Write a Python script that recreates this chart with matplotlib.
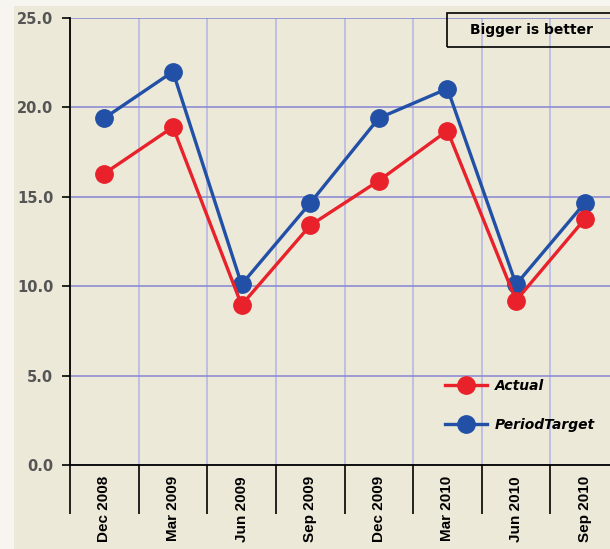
import matplotlib
matplotlib.use("Agg")
import matplotlib.pyplot as plt
from matplotlib.patches import Rectangle

# data
periods = ["Dec 2008", "Mar 2009", "Jun 2009", "Sep 2009",
           "Dec 2009", "Mar 2010", "Jun 2010", "Sep 2010"]
actual = [16.3, 18.9, 8.95, 13.4, 15.9, 18.7, 9.2, 13.75]
period_target = [19.4, 22.0, 10.1, 14.65, 19.4, 21.05, 10.1, 14.65]
y_ticks = [0, 5, 10, 15, 20, 25]

W, H = 610, 549
bg = "#ECE9D8"
red = "#E8212B"
blue = "#2150A6"

fig = plt.figure(figsize=(W / 100, H / 100), dpi=100)
fig.patch.set_facecolor("#F6F5EF")
# inner beige panel (light strip left and top)
fig.patches.append(Rectangle((14 / W, 0), 1, 1 - 6 / H, transform=fig.transFigure,
                             facecolor=bg, edgecolor="none", zorder=-5))

# axes run past the right edge, like in the cropped original
ax = fig.add_axes([70 / W, 1 - 465 / H, 549 / W, 447 / H])
ax.set_facecolor(bg)

x = list(range(len(periods)))
ax.plot(x, actual, color=red, lw=2.4, marker="o", ms=12.5, label="Actual", zorder=4)
ax.plot(x, period_target, color=blue, lw=2.4, marker="o", ms=12.5, label="PeriodTarget", zorder=3)

ax.set_xlim(-0.5, len(periods) - 0.5)
ax.set_ylim(0, 25)

# category boundaries: grid + long ticks below the axis
bounds = [i - 0.5 for i in range(len(periods) + 1)]
ax.set_xticks(bounds, minor=True)
ax.set_xticks(x)
ax.set_xticklabels(periods, rotation=90, fontsize=11, fontweight="bold",
                   family="Liberation Sans", va="top")
ax.tick_params(axis="x", which="major", length=0, pad=8)
ax.tick_params(axis="x", which="minor", length=35, width=1.2, color="black", direction="out")
ax.grid(True, axis="x", which="minor", color="#B8B8E2", lw=1.2, zorder=1)

ax.set_yticks(y_ticks)
ax.set_yticklabels([f"{v:.1f}" for v in y_ticks], fontsize=10.5, fontweight="bold",
                   family="DejaVu Sans", color="#555555")
ax.tick_params(axis="y", length=6, width=1.2, color="black", pad=6)
ax.grid(True, axis="y", which="major", color="#8C8CD2", lw=1.2, zorder=1)
ax.set_axisbelow(True)

for s in ["top", "right"]:
    ax.spines[s].set_visible(False)
ax.spines["left"].set_linewidth(1.3)
ax.spines["bottom"].set_linewidth(1.3)

leg = ax.legend(loc="upper left", bbox_to_anchor=(445 / W, 1 - 379 / H),
                bbox_transform=fig.transFigure, frameon=False,
                prop={"family": "DejaVu Sans", "weight": "bold", "style": "italic", "size": 10},
                handlelength=3.0, handletextpad=0.6, labelspacing=1.8,
                borderpad=0, borderaxespad=0)

# "Bigger is better" box
fig.patches.append(Rectangle((447 / W, 1 - 47 / H), 200 / W, 34 / H, transform=fig.transFigure,
                             facecolor="none", edgecolor="black", lw=1.2, zorder=5))
fig.text(532 / W, 1 - 30 / H, "Bigger is better", ha="center", va="center",
         fontsize=10, fontweight="bold", family="DejaVu Sans")

fig.savefig("out.png", dpi=100, facecolor=fig.get_facecolor())
